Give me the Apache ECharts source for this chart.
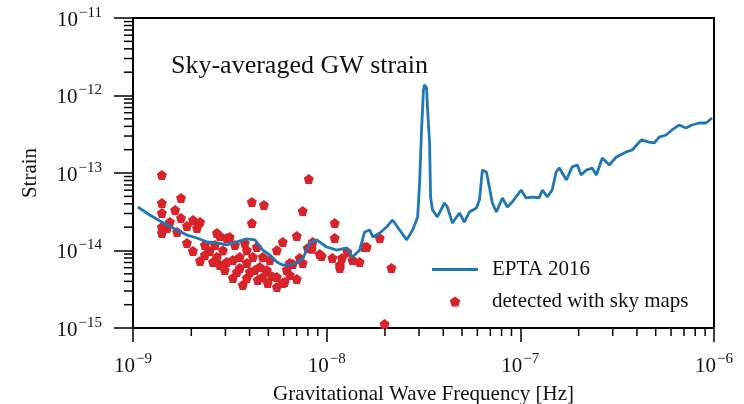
<!DOCTYPE html>
<html><head><meta charset="utf-8">
<script src="https://cdn.jsdelivr.net/npm/echarts@6/dist/echarts.min.js"></script>
<style>html,body{margin:0;padding:0;background:#fff}#c{width:744px;height:404px}</style>
</head><body><div id="c"></div>
<script>
// EPTA 2016 sky-averaged sensitivity curve
const eptaFreq = [1.06e-9,1.22e-9,1.38e-9,1.61e-9,1.90e-9,2.14e-9,2.41e-9,2.71e-9,3.05e-9,3.44e-9,
  3.87e-9,4.26e-9,4.68e-9,5.09e-9,5.53e-9,5.93e-9,6.45e-9,7.01e-9,7.52e-9,8.17e-9,
  8.88e-9,1.00e-8,1.13e-8,1.27e-8,1.36e-8,1.48e-8,1.57e-8,1.67e-8,1.73e-8,1.88e-8,
  2.04e-8,2.19e-8,2.38e-8,2.59e-8,2.78e-8,2.95e-8,3.02e-8,3.09e-8,3.16e-8,3.20e-8,
  3.28e-8,3.32e-8,3.40e-8,3.44e-8,3.52e-8,3.73e-8,4.06e-8,4.20e-8,4.46e-8,4.85e-8,
  5.14e-8,5.46e-8,5.93e-8,6.15e-8,6.37e-8,6.68e-8,6.92e-8,7.17e-8,7.52e-8,8.08e-8,
  8.57e-8,9.09e-8,1.01e-7,1.07e-7,1.15e-7,1.25e-7,1.30e-7,1.38e-7,1.46e-7,1.53e-7,
  1.59e-7,1.73e-7,1.85e-7,1.97e-7,2.06e-7,2.19e-7,2.35e-7,2.47e-7,2.65e-7,2.88e-7,
  3.13e-7,3.52e-7,3.78e-7,4.21e-7,4.62e-7,4.91e-7,5.21e-7,5.66e-7,6.07e-7,6.60e-7,
  7.17e-7,7.70e-7,8.37e-7,9.10e-7,9.77e-7];
const eptaStrain = [3.64e-14,2.87e-14,2.40e-14,1.95e-14,1.58e-14,1.45e-14,1.29e-14,1.25e-14,1.18e-14,1.29e-14,
  1.41e-14,1.37e-14,1.01e-14,8.75e-15,7.11e-15,6.50e-15,6.50e-15,6.90e-15,7.77e-15,1.25e-14,
  1.37e-14,1.11e-14,1.01e-14,1.08e-14,8.25e-15,1.01e-14,1.73e-14,1.84e-14,1.49e-14,1.68e-14,
  2.01e-14,2.48e-14,1.84e-14,1.37e-14,1.84e-14,2.71e-14,7.43e-14,3.59e-13,1.18e-12,1.37e-12,
  1.25e-12,6.50e-13,2.44e-13,4.90e-14,3.33e-14,2.71e-14,4.10e-14,3.64e-14,2.26e-14,3.05e-14,
  2.33e-14,3.14e-14,3.53e-14,4.48e-14,1.09e-13,1.03e-13,6.60e-14,4.10e-14,3.14e-14,4.76e-14,
  3.64e-14,4.23e-14,6.03e-14,4.76e-14,4.90e-14,4.76e-14,6.03e-14,4.90e-14,6.03e-14,1.03e-13,
  1.16e-13,8.12e-14,1.20e-13,1.27e-13,9.42e-14,1.09e-13,1.16e-13,9.42e-14,1.56e-13,1.27e-13,
  1.61e-13,1.87e-13,1.98e-13,2.67e-13,2.51e-13,2.44e-13,2.91e-13,3.09e-13,3.59e-13,4.16e-13,
  3.81e-13,4.16e-13,4.42e-13,4.42e-13,5.13e-13];

// Sources detected with sky maps
const skyFreq = [1.41e-9,1.77e-9,4.11e-9,4.74e-9,8.08e-9,7.52e-9,1.10e-8,1.10e-8,7.01e-9,5.93e-9,
  8.47e-9,1.61e-8,1.88e-8,2.16e-8,1.99e-8,1.41e-9,1.65e-9,1.41e-9,1.77e-9,2.04e-9,
  2.22e-9,2.14e-9,1.41e-9,1.41e-9,1.50e-9,4.11e-9,2.71e-9,2.81e-9,3.05e-9,2.04e-9,
  2.22e-9,2.49e-9,2.71e-9,3.05e-9,3.28e-9,3.87e-9,3.28e-9,3.56e-9,3.87e-9,4.16e-9,
  4.52e-9,4.91e-9,4.68e-9,5.53e-9,5.53e-9,3.87e-9,4.36e-9,5.53e-9,6.07e-9,7.01e-9,
  6.68e-9,1.17e-8,1.36e-8,1.48e-8,9.20e-9,8.37e-9,7.98e-9,9.42e-9,1.07e-8,1.17e-8,
  1.57e-8,6.45e-9,7.52e-9,5.93e-9,4.68e-9,3.16e-9,1.90e-9,2.35e-9,2.65e-9,2.91e-9,
  3.56e-9,4.26e-9,5.09e-9,3.78e-9,3.36e-9,5.21e-9,7.26e-9,1.20e-8,1.28e-8,1.55e-9,
  2.59e-9,2.81e-9,4.41e-9,6.45e-9,2.35e-9,2.98e-9,3.44e-9,4.01e-9,4.96e-9,6.22e-9,
  3.69e-9,1.90e-9,1.69e-9];
const skyStrain = [9.42e-14,4.76e-14,4.23e-14,3.86e-14,8.37e-14,3.23e-14,2.26e-14,1.45e-14,1.54e-14,1.29e-14,
  1.29e-14,1.11e-14,1.45e-14,5.95e-15,1.13e-15,4.10e-14,3.33e-14,3.05e-14,2.63e-14,2.48e-14,
  2.33e-14,1.95e-14,2.01e-14,1.68e-14,1.95e-14,2.26e-14,1.68e-14,1.54e-14,1.45e-14,9.85e-15,
  7.32e-15,9.85e-15,8.25e-15,7.11e-15,4.42e-15,4.42e-15,7.54e-15,8.25e-15,1.01e-14,8.25e-15,
  6.13e-15,5.60e-15,8.25e-15,4.55e-15,3.38e-15,6.90e-15,1.11e-14,1.01e-14,3.92e-15,4.29e-15,
  6.70e-15,6.50e-15,7.54e-15,7.11e-15,9.01e-15,1.05e-14,1.08e-14,8.49e-15,8.00e-15,5.95e-15,
  1.11e-14,6.90e-15,6.90e-15,3.81e-15,4.55e-15,1.49e-14,2.07e-14,1.18e-14,1.18e-14,1.01e-14,
  5.95e-15,5.60e-15,7.54e-15,1.25e-14,1.18e-14,4.69e-15,8.00e-15,8.00e-15,9.56e-15,2.33e-14,
  7.11e-15,6.50e-15,4.16e-15,4.83e-15,8.75e-15,5.60e-15,5.28e-15,5.28e-15,3.81e-15,5.60e-15,
  3.59e-15,1.25e-14,1.73e-14];

// Axis decades and minor tick multipliers
const xDecades = [-9, -8, -7, -6];
const yDecades = [-15, -14, -13, -12, -11];
const minorMultipliers = [2, 3, 4, 5, 6, 7, 8, 9];

const FONT = '"Liberation Serif", "Times New Roman", serif';
const xMin = Math.pow(10, xDecades[0]), xMax = Math.pow(10, xDecades[xDecades.length - 1]);
const yMin = Math.pow(10, yDecades[0]), yMax = Math.pow(10, yDecades[yDecades.length - 1]);

function minorValues(decades) {
  const out = [];
  for (let i = 0; i < decades.length - 1; i++) {
    minorMultipliers.forEach(m => out.push(Number((m * Math.pow(10, decades[i])).toPrecision(3))));
  }
  return out;
}
function fmt(v) {
  const e = Math.round(Math.log10(v));
  return '{b|10}{s|' + (e < 0 ? '\u2212' : '') + Math.abs(e) + '}';
}
const rich = {
  b: { fontFamily: FONT, fontSize: 21, color: '#111', verticalAlign: 'bottom', lineHeight: 24 },
  s: { fontFamily: FONT, fontSize: 15, color: '#111', verticalAlign: 'bottom', padding: [0, 0, 10, 1] }
};
const PENTAGON = 'path://M0,-1 L0.951,-0.309 L0.588,0.809 L-0.588,0.809 L-0.951,-0.309 Z';

const chart = echarts.init(document.getElementById('c'), null, { renderer: 'canvas' });
chart.setOption({
  animation: false,
  backgroundColor: '#fff',
  title: {
    text: 'Sky-averaged GW strain', left: 166, top: 48,
    textStyle: { fontFamily: FONT, fontSize: 26, fontWeight: 'normal', color: '#111' }
  },
  legend: {
    orient: 'vertical', left: 432, top: 259, padding: 0,
    itemWidth: 46, itemHeight: 10, itemGap: 11, symbolKeepAspect: true,
    textStyle: { fontFamily: FONT, fontSize: 21, color: '#111', lineHeight: 20, padding: [0, 0, 0, 9] },
    data: [
      { name: 'EPTA 2016', icon: 'path://M0,0 L46,0 L46,2.8 L0,2.8 Z', itemStyle: { color: '#1f77b4' } },
      { name: 'detected with sky maps', icon: PENTAGON }
    ]
  },
  grid: { left: 133, right: 30, top: 18, bottom: 76, show: true, borderColor: '#000', borderWidth: 2,
    backgroundColor: 'transparent', containLabel: false, outerBoundsMode: 'none' },
  xAxis: {
    type: 'log', logBase: 10, min: xMin, max: xMax, interval: 1,
    name: 'Gravitational Wave Frequency [Hz]', nameLocation: 'middle', nameGap: 56,
    nameTextStyle: { fontFamily: FONT, fontSize: 21, color: '#111' },
    axisLine: { lineStyle: { color: '#000', width: 2 } },
    axisTick: { inside: false, length: 14, lineStyle: { color: '#000', width: 1.5 } },
    axisLabel: { margin: 24, formatter: fmt, rich: rich },
    splitLine: { show: false }, minorTick: { show: false }
  },
  yAxis: {
    type: 'log', logBase: 10, min: yMin, max: yMax, interval: 1,
    name: 'Strain', nameLocation: 'middle', nameGap: 92,
    nameTextStyle: { fontFamily: FONT, fontSize: 21, color: '#111' },
    axisLine: { lineStyle: { color: '#000', width: 2 } },
    axisTick: { inside: false, length: 19, lineStyle: { color: '#000', width: 1.5 } },
    axisLabel: { margin: 31, formatter: fmt, rich: rich },
    splitLine: { show: false }, minorTick: { show: false }
  },
  series: [
    {
      name: 'detected with sky maps', type: 'scatter', z: 2,
      symbol: PENTAGON, symbolSize: 10, itemStyle: { color: '#d8232a', opacity: 1 },
      data: skyFreq.map((f, i) => [f, skyStrain[i]])
    },
    {
      name: 'EPTA 2016', type: 'line', z: 3, symbol: 'none', showSymbol: false,
      lineStyle: { color: '#1f77b4', width: 2.8 }, itemStyle: { color: '#1f77b4' },
      data: eptaFreq.map((f, i) => [f, eptaStrain[i]])
    },
    {
      name: 'xMinor', type: 'custom', silent: true, clip: false, z: 5,
      data: minorValues(xDecades).map(v => [v, yMin]),
      renderItem: function (params, api) {
        const p = api.coord([api.value(0), api.value(1)]);
        return { type: 'line', shape: { x1: p[0], y1: p[1], x2: p[0], y2: p[1] + 8 }, style: { stroke: '#000', lineWidth: 1.5 } };
      }
    },
    {
      name: 'yMinor', type: 'custom', silent: true, clip: false, z: 5,
      data: minorValues(yDecades).map(v => [xMin, v]),
      renderItem: function (params, api) {
        const p = api.coord([api.value(0), api.value(1)]);
        return { type: 'line', shape: { x1: p[0] - 9, y1: p[1], x2: p[0], y2: p[1] }, style: { stroke: '#000', lineWidth: 1.5 } };
      }
    }
  ]
});
</script></body></html>
